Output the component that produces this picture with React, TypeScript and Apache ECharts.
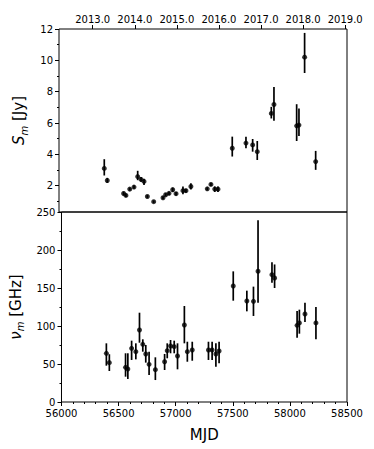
import React, { useEffect, useRef } from "react";
import * as echarts from "echarts";

// Observation epochs (MJD)
const mjd = [
  56393, 56419, 56561, 56581, 56614, 56651, 56683, 56712, 56738, 56767, 56822,
  56903, 56926, 56955, 56987, 57016, 57076, 57102, 57145, 57287, 57319, 57352,
  57380, 57504, 57623, 57681, 57721, 57843, 57866, 58063, 58083, 58132, 58228,
];

// Turnover flux density S_m [Jy] with lower / upper error bounds
const smVal = [
  3.1, 2.33, 1.5, 1.38, 1.78, 1.91, 2.58, 2.4, 2.27, 1.31, 0.98,
  1.23, 1.42, 1.51, 1.74, 1.49, 1.68, 1.68, 1.95, 1.8, 2.08, 1.78,
  1.78, 4.39, 4.72, 4.6, 4.17, 6.61, 7.18, 5.82, 5.87, 10.2, 3.54,
];
const smLow = [
  2.65, 2.18, 1.4, 1.28, 1.68, 1.8, 2.35, 2.25, 2.05, 1.22, 0.9,
  1.13, 1.32, 1.41, 1.6, 1.38, 1.45, 1.55, 1.75, 1.7, 1.98, 1.6,
  1.6, 3.86, 4.39, 4.17, 3.64, 6.29, 6.14, 4.85, 5.17, 9.19, 3.01,
];
const smHigh = [
  3.69, 2.5, 1.62, 1.48, 1.88, 2.02, 2.95, 2.55, 2.45, 1.4, 1.06,
  1.33, 1.52, 1.61, 1.88, 1.6, 1.95, 1.8, 2.15, 1.9, 2.18, 1.95,
  1.95, 5.13, 5.12, 4.98, 4.85, 7.03, 8.3, 7.2, 6.93, 11.75, 4.22,
];

// Turnover frequency nu_m [GHz] with lower / upper error bounds
const nuVal = [
  64, 51.8, 45.6, 43.4, 70.6, 66.2, 94.7, 75.9, 63.2, 49.6, 42.5,
  53, 67.5, 73.7, 72.8, 60.5, 101.3, 66.2, 68.4, 68.4, 68.4, 63.2,
  67.1, 152.6, 132.9, 132.5, 172, 167.5, 163.2, 100.9, 104, 115.8, 104,
];
const nuLow = [
  47.8, 40.8, 33.3, 30.3, 55.3, 56.1, 78, 66.2, 51.8, 35.5, 28.9,
  42.1, 57.5, 64.1, 64.1, 43, 77.2, 53, 54.3, 55.3, 55.3, 46.4,
  50.9, 133.3, 119.3, 113.2, 130.6, 157, 150, 84.6, 89.9, 105.3, 82.5,
];
const nuHigh = [
  77.2, 62.8, 64.1, 64.1, 80.7, 77.2, 117.5, 82.5, 75, 66.2, 58.8,
  63.2, 77.2, 81.6, 80.7, 77.2, 126.3, 79.3, 79.3, 79.3, 79.3, 77.2,
  79.3, 171.9, 146.5, 151.8, 239, 184, 181, 119.7, 121.5, 130.7, 125,
];

// Axis ticks
const yearTicks = [2013, 2014, 2015, 2016, 2017, 2018, 2019];
const smMajorTicks = [2, 4, 6, 8, 10, 12];
const smMinorTicks = [1, 3, 5, 7, 9, 11];

const FONT = "DejaVu Sans";
const yearToMjd = (y: number) => 51544.5 + (y - 2000) * 365.25;
const mjdToYear = (m: number) => 2000 + (m - 51544.5) / 365.25;

const errRender = (params: any, api: any) => {
  const p1 = api.coord([api.value(0), api.value(1)]);
  const p2 = api.coord([api.value(0), api.value(2)]);
  return {
    type: "line",
    shape: { x1: p1[0], y1: p1[1], x2: p2[0], y2: p2[1] },
    style: { stroke: "#000", lineWidth: 1.7 },
  };
};

export default function App() {
  const ref = useRef<HTMLDivElement>(null);
  useEffect(() => {
    if (!ref.current) return;
    const chart = echarts.init(ref.current, undefined, { renderer: "svg" });
    const yearMjds = yearTicks.map(yearToMjd);
    const axisLineStyle = { color: "#000", width: 1 };
    const labelStyle = { color: "#000", fontSize: 10, fontFamily: FONT };
    const nameRich = {
      i: { fontStyle: "italic", fontSize: 15, fontFamily: FONT, color: "#000" },
      s: { fontStyle: "italic", fontSize: 10, fontFamily: FONT, color: "#000", padding: [10, 0, 0, 0] },
      n: { fontSize: 15, fontFamily: FONT, color: "#000" },
    };
    chart.setOption({
      animation: false,
      backgroundColor: "#fff",
      grid: [
        { left: 59, right: 27, top: 29, height: 183, show: true, borderColor: "#000", borderWidth: 1 },
        { left: 59, right: 27, top: 212, height: 190, show: true, borderColor: "#000", borderWidth: 1 },
      ],
      xAxis: [
        {
          gridIndex: 0,
          type: "value",
          position: "top",
          min: 56000,
          max: 58500,
          axisLine: { show: false },
          splitLine: { show: false },
          axisTick: { show: true, customValues: yearMjds, length: 4, lineStyle: axisLineStyle },
          axisLabel: {
            ...labelStyle,
            customValues: yearMjds,
            margin: 5,
            formatter: (v: number) => mjdToYear(v).toFixed(1),
          },
        },
        {
          gridIndex: 1,
          type: "value",
          position: "bottom",
          min: 56000,
          max: 58500,
          interval: 500,
          axisLine: { show: false },
          splitLine: { show: false },
          axisTick: { show: true, length: 4, lineStyle: axisLineStyle },
          minorTick: { show: true, splitNumber: 5, length: 2, lineStyle: axisLineStyle },
          axisLabel: { ...labelStyle, margin: 6, formatter: (v: number) => String(v) },
          name: "MJD",
          nameLocation: "middle",
          nameGap: 25,
          nameTextStyle: { fontSize: 15, fontFamily: FONT, color: "#000" },
        },
      ],
      yAxis: [
        {
          gridIndex: 0,
          type: "value",
          position: "left",
          min: 0.32,
          max: 12,
          axisLine: { show: false },
          splitLine: { show: false },
          axisTick: { show: true, customValues: smMajorTicks, length: 4, lineStyle: axisLineStyle },
          axisLabel: { ...labelStyle, customValues: smMajorTicks, margin: 6 },
          name: "{i|S}{s|m}{n| [Jy]}",
          nameLocation: "middle",
          nameRotate: 90,
          nameGap: 30,
          nameTextStyle: { rich: nameRich },
        },
        {
          gridIndex: 0,
          type: "value",
          position: "left",
          offset: 0,
          min: 0.32,
          max: 12,
          axisLine: { show: false },
          splitLine: { show: false },
          axisTick: { show: true, customValues: smMinorTicks, length: 2, lineStyle: axisLineStyle },
          axisLabel: { show: false },
        },
        {
          gridIndex: 1,
          type: "value",
          position: "left",
          min: 0,
          max: 250,
          interval: 50,
          axisLine: { show: false },
          splitLine: { show: false },
          axisTick: { show: true, length: 4, lineStyle: axisLineStyle },
          minorTick: { show: true, splitNumber: 2, length: 2, lineStyle: axisLineStyle },
          axisLabel: { ...labelStyle, margin: 6 },
          name: "{i|ν}{s|m}{n| [GHz]}",
          nameLocation: "middle",
          nameRotate: 90,
          nameGap: 30,
          nameTextStyle: { rich: nameRich },
        },
      ],
      series: [
        {
          type: "custom",
          xAxisIndex: 0,
          yAxisIndex: 0,
          renderItem: errRender,
          encode: { x: 0, y: [1, 2] },
          data: mjd.map((m, i) => [m, smLow[i], smHigh[i]]),
          silent: true,
        },
        {
          type: "scatter",
          xAxisIndex: 0,
          yAxisIndex: 0,
          symbolSize: 5,
          itemStyle: { color: "#000" },
          data: mjd.map((m, i) => [m, smVal[i]]),
          silent: true,
        },
        {
          type: "custom",
          xAxisIndex: 1,
          yAxisIndex: 2,
          renderItem: errRender,
          encode: { x: 0, y: [1, 2] },
          data: mjd.map((m, i) => [m, nuLow[i], nuHigh[i]]),
          silent: true,
        },
        {
          type: "scatter",
          xAxisIndex: 1,
          yAxisIndex: 2,
          symbolSize: 5,
          itemStyle: { color: "#000" },
          data: mjd.map((m, i) => [m, nuVal[i]]),
          silent: true,
        },
      ],
    });
    return () => chart.dispose();
  }, []);
  return (
    <div
      ref={ref}
      style={{ position: "absolute", left: 0, top: 0, width: 374, height: 449 }}
    />
  );
}
